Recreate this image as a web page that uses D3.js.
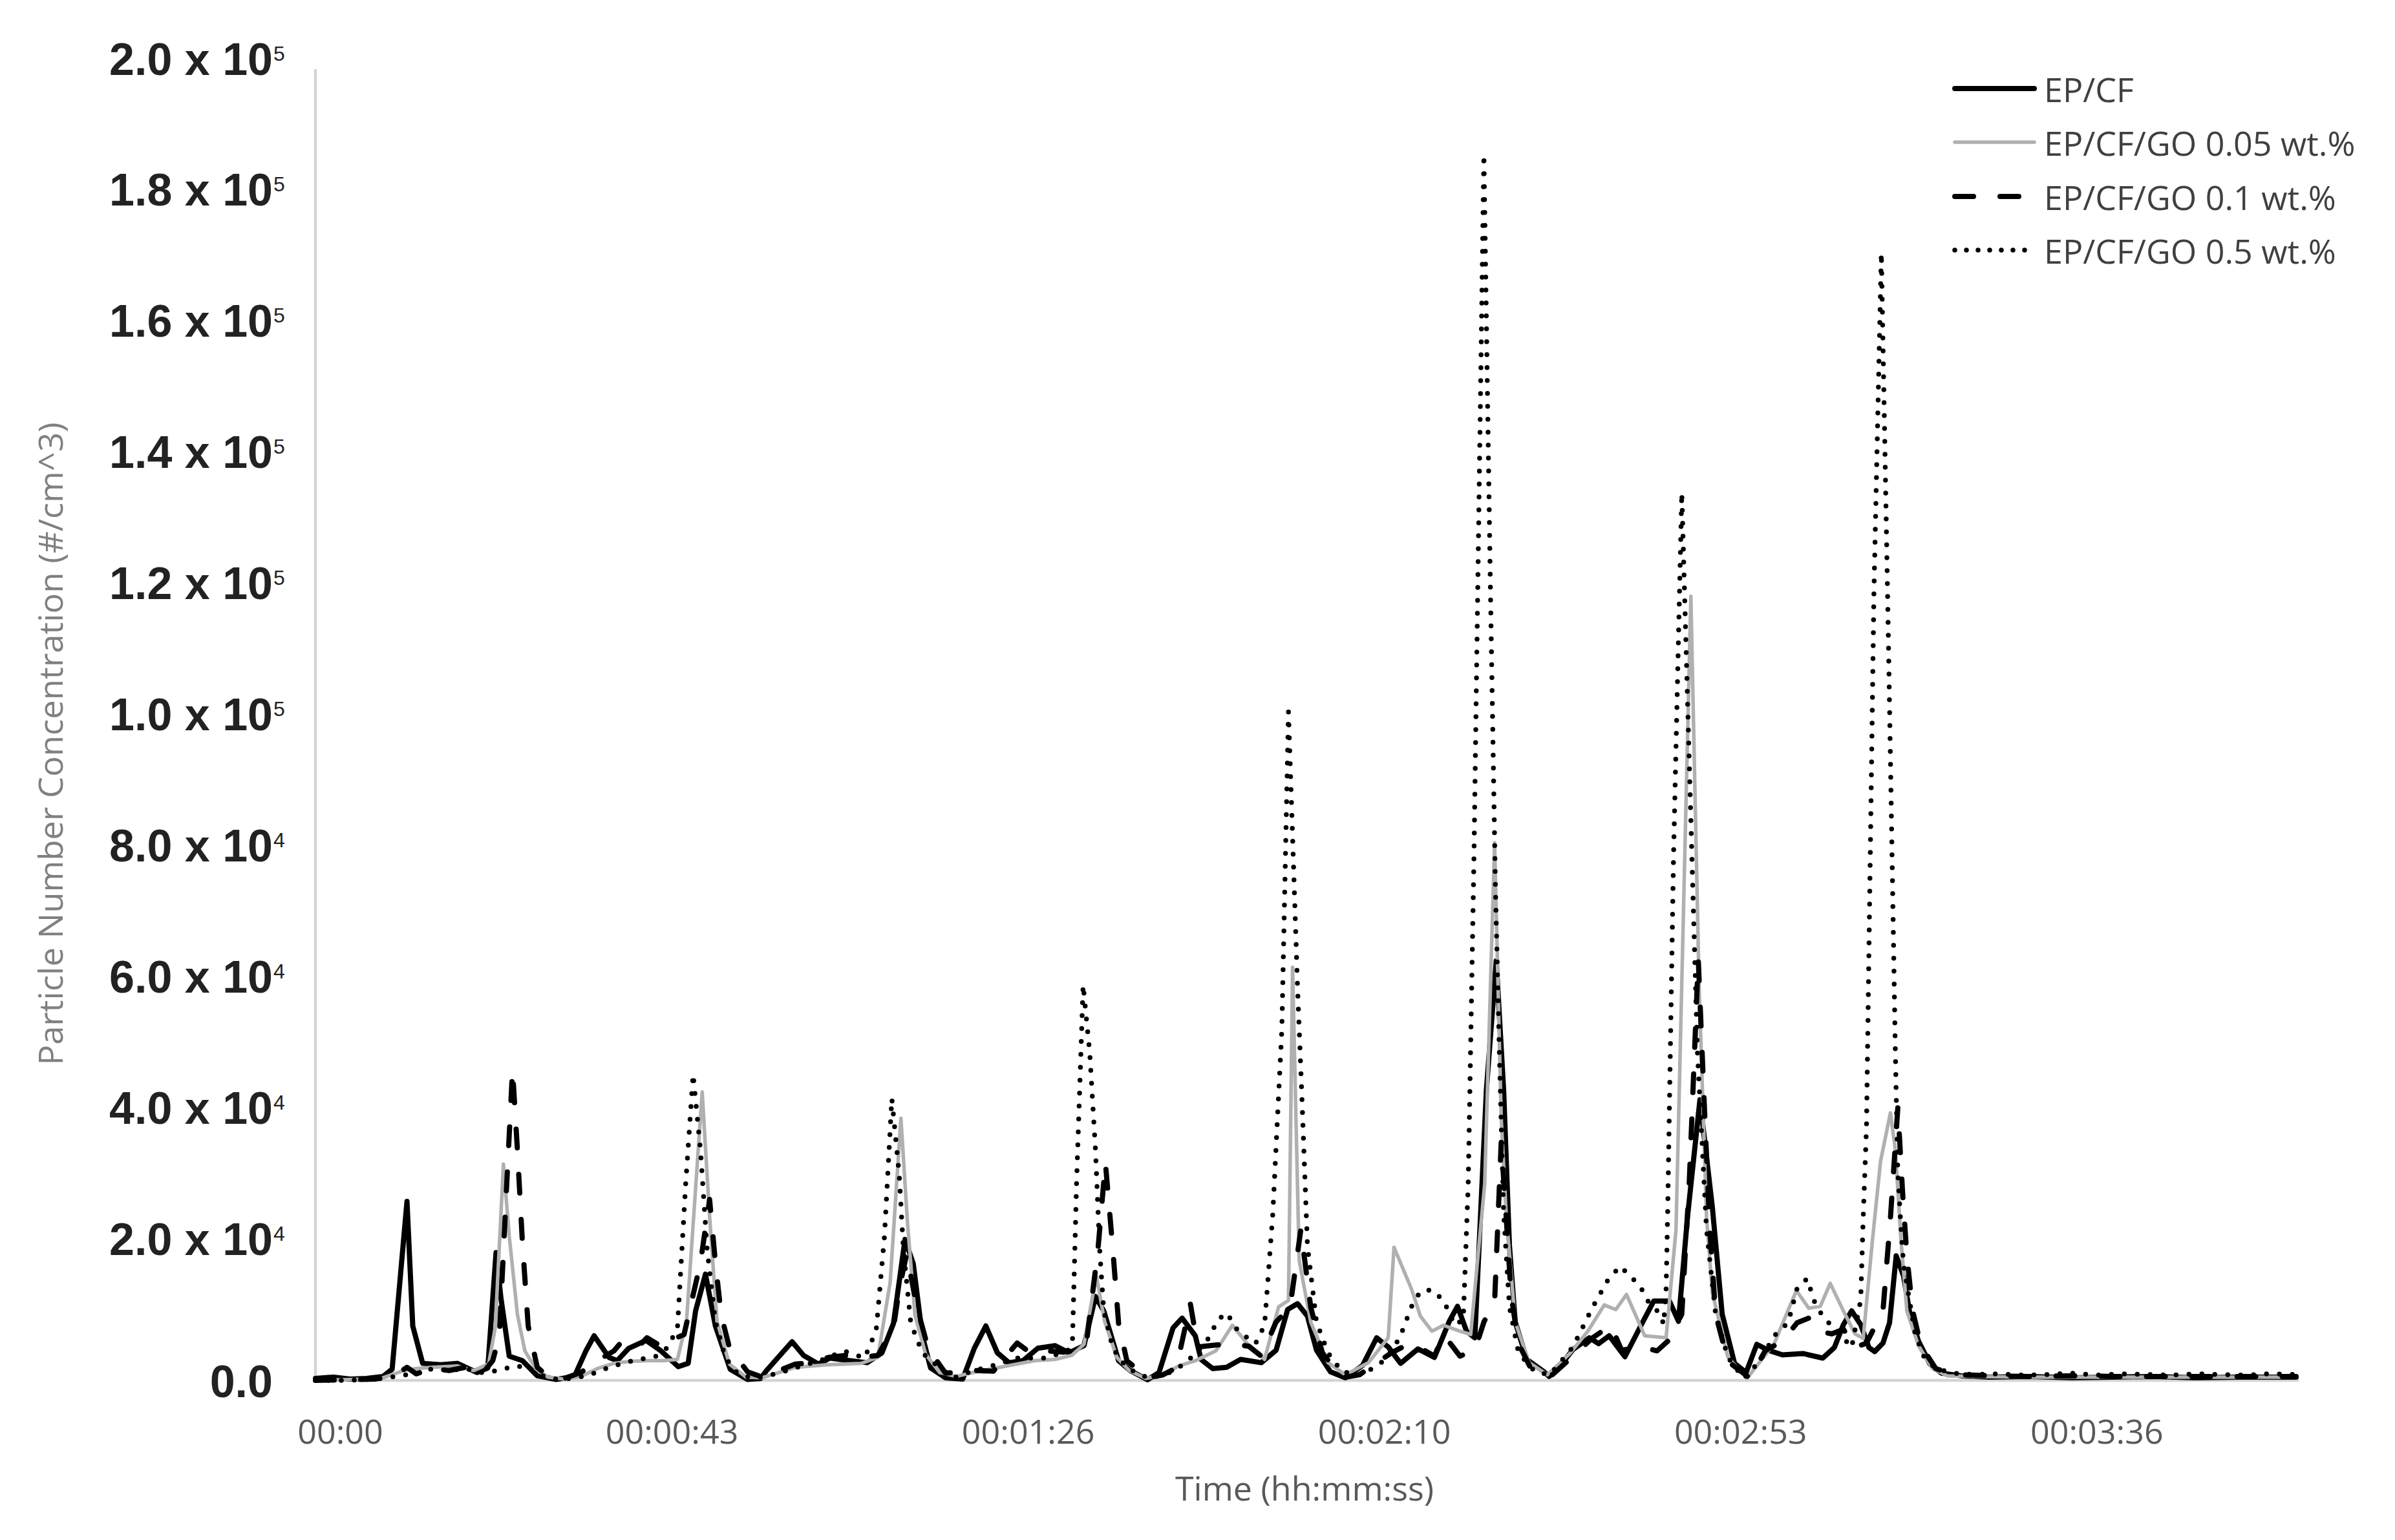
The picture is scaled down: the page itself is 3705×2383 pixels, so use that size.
<!DOCTYPE html>
<html><head><meta charset="utf-8">
<script src="https://cdn.jsdelivr.net/npm/d3@7"></script>
<style>html,body{margin:0;padding:0;background:#fff;} svg{display:block;}</style>
</head><body>
<svg id="chart" width="3705" height="2383"></svg>
<script>
// ---------------- DATA (time in seconds, concentration in #/cm^3) ----------------
const seriesNames = ["EP/CF", "EP/CF/GO 0.05 wt.%", "EP/CF/GO 0.1 wt.%", "EP/CF/GO 0.5 wt.%"];

const epcf = [[0,300],[2.2,500],[4.2,200],[6.2,300],[8.2,600],[9.3,1700],[11.1,27300],[11.8,8300],[13,2600],[15.2,2400],[17.2,2600],[19.6,1200],[20.9,1900],[21.9,19500],[22.5,12500],[23.5,3700],[25.1,3000],[26.9,700],[29.2,150],[31.4,600],[32.8,4500],[33.8,6800],[35.6,3500],[36.6,3000],[38,4900],[40.1,6100],[41.9,4500],[44,2100],[45.2,2600],[46.1,10600],[47.3,16200],[48.5,8300],[50.3,1700],[52.4,150],[54,300],[54.7,1500],[57.8,5900],[59.2,3800],[61,2500],[62.4,3400],[64.8,3000],[66.9,2700],[68.7,4200],[70.1,8700],[71.5,21500],[72.5,17800],[73.6,6800],[74.6,1900],[76.4,400],[78.5,200],[79.9,4900],[81.3,8300],[82.7,4200],[84.1,2700],[85.8,3000],[87.6,4900],[89.7,5300],[91.4,4200],[93.2,5300],[94.6,12800],[95.6,10600],[97.4,3000],[98.8,1500],[100.9,100],[102.3,1200],[104,8000],[105.1,9500],[106.7,6800],[107.4,3200],[108.8,1800],[110.5,2000],[112.2,3200],[114.7,2700],[116.5,4600],[117.9,10800],[119.1,11700],[120.3,9800],[121.4,4600],[123.1,1300],[124.9,400],[127,2300],[128.7,6500],[130.1,5100],[131.6,2600],[133.7,4800],[135.7,3500],[137.5,9000],[138.5,11300],[139.6,7500],[140.6,6500],[142,44200],[143.2,64000],[144.1,44200],[144.8,20600],[145.5,8900],[146.9,3200],[149,1300],[149.6,600],[150.7,1800],[152.5,4700],[154.5,6500],[155.6,5600],[156.9,6800],[158.8,3600],[160.8,8500],[162.3,12100],[164.2,12100],[165.3,9000],[166.4,25000],[167.9,42800],[169.4,26500],[170.6,10100],[172.1,2600],[173.5,1200],[174.8,5500],[176.2,4600],[177.9,3900],[180.4,4100],[182.8,3400],[184.2,5000],[185.3,8500],[186.3,10600],[187.4,8500],[188.4,5000],[189.1,4400],[190.1,5700],[190.9,8800],[191.7,19000],[192.6,15900],[193.3,10600],[194.4,6000],[195.8,2500],[197.2,1100],[199.6,700],[203,500],[208,600],[213,400],[218,500],[223,600],[228,400],[233,500],[240.2,500]];

const go005 = [[0,0],[3.2,100],[6.2,200],[8.2,400],[10.7,1500],[12.2,1800],[14.2,2000],[17.2,2200],[19.2,1500],[21,2500],[21.8,8000],[22.8,33000],[23.5,22000],[24.5,10000],[25.4,4500],[26.7,1800],[28.2,500],[30.2,200],[32.2,600],[34.2,1800],[36.2,2600],[38.2,2900],[40.2,3000],[42.2,3000],[43.9,3200],[45,9000],[46.9,44000],[47.8,25000],[48.7,9000],[50.2,2500],[52.2,500],[54.2,400],[56.2,1200],[58.2,2000],[60.2,2200],[62.2,2400],[64.2,2500],[66.2,2600],[68.2,3500],[69.7,15000],[71,40000],[71.8,24000],[72.7,10000],[74,4000],[75.7,1200],[77.7,600],[79.7,1200],[82.2,1800],[84.7,2400],[87.2,3000],[89.7,3200],[91.7,3800],[93.2,5500],[94.7,16000],[95.7,9000],[97.2,3500],[98.7,1500],[100.7,300],[102.7,800],[104.7,2200],[106.7,3000],[109.2,4500],[111.2,8400],[113,5600],[115.1,3200],[116.8,11200],[118,12200],[118.5,63000],[119.3,18300],[120.7,8900],[122.8,2700],[124.9,850],[127.7,2700],[130.1,6500],[130.8,20300],[132.9,14000],[134,9800],[135.4,7500],[136.8,8400],[138.8,7500],[140.1,7000],[141.8,30000],[143,82000],[143.8,40000],[144.4,25400],[145.5,8900],[147.2,2700],[149.4,850],[152.2,4200],[154.3,7500],[156.3,11500],[157.7,10800],[159,13100],[161.2,6800],[163.8,6500],[165,23000],[166.8,119600],[167.8,60000],[168.7,25000],[169.4,13400],[171.3,3500],[173.6,300],[176.9,5600],[179.6,13700],[181.1,11000],[182.5,11300],[183.7,14800],[185.3,10600],[186.7,7100],[187.7,6400],[188.8,21100],[189.8,33400],[191,40800],[191.6,35200],[192.3,21100],[193,10600],[194.4,5300],[196.1,1800],[197.9,700],[201,600],[208,500],[218,500],[228,500],[240.2,500]];

const go01 = [[0,0],[4.2,100],[7.2,200],[9.7,800],[11.1,2000],[12.2,1000],[14.2,1800],[16.2,1500],[18.2,2000],[20.2,1000],[21.5,3000],[22.3,6800],[23.2,30000],[23.9,47400],[24.5,35000],[25.1,21000],[25.8,8300],[26.9,2000],[28.2,600],[30.2,300],[32.2,1200],[34.2,3000],[36.2,4500],[37.2,6000],[39.2,5200],[40.2,6500],[42.2,5000],[43.6,6400],[44.7,7000],[46.7,18000],[47.8,27600],[48.5,18000],[49.2,10000],[50.2,5000],[52.4,1300],[54.2,500],[56.2,1500],[58.2,2500],[60.2,2700],[62.2,3500],[64.2,3800],[66.2,3500],[68.2,3800],[70.1,8000],[70.8,14000],[71.7,19300],[72.9,11400],[74.3,4900],[76.4,1100],[78.2,1300],[80.2,1500],[82.2,1400],[85.1,5700],[86.7,4200],[88.7,4500],[90.7,4300],[92.2,4600],[93.5,5700],[94.9,20000],[95.8,33200],[96.7,20000],[97.4,8700],[98.4,3000],[100.9,400],[102.7,800],[104.4,1900],[106.1,11700],[107,5100],[109.2,5400],[111.2,5600],[113.2,5200],[114.7,3700],[116.5,8900],[118.2,11200],[119.5,23000],[120.7,11200],[122.1,4200],[124.5,400],[126.6,850],[128.7,2700],[130.5,4200],[132.6,5600],[134.2,4800],[135.7,3700],[136.8,7000],[138.8,3700],[140.6,4600],[141.7,8900],[143,12000],[143.8,36300],[144.4,25000],[145,13000],[145.9,5600],[147.6,1300],[150,850],[152.5,3700],[154.9,6500],[157.1,8400],[158.4,4600],[160.8,5100],[162.7,4500],[164.2,6200],[165.7,10100],[166.6,30000],[167.7,64200],[168.5,40000],[169.1,23000],[169.8,10100],[171.3,2900],[174,300],[175.8,4500],[177.9,6000],[179.7,8800],[181.1,9500],[182.2,7500],[183.9,7100],[185.3,7800],[186.7,5000],[188.1,5700],[190.1,10600],[191,24700],[191.9,41600],[192.5,28200],[193,19000],[193.7,10600],[194.7,5300],[196.5,1800],[198.6,900],[203,700],[208,600],[213,700],[218,600],[228,600],[240.2,600]];

const go05 = [[0,0],[4.2,0],[8.2,300],[10.7,800],[12.2,1000],[14.2,1800],[16.2,1500],[18.2,1800],[20.2,1200],[22.2,1500],[24.2,2200],[25.7,2000],[27.2,800],[29.2,200],[31.2,300],[33.2,800],[35.2,1800],[37.2,2600],[39.2,3200],[41.2,3600],[42.7,5000],[43.9,8000],[44.9,30000],[45.8,46700],[46.7,35000],[47.5,20000],[48.5,9000],[49.7,3500],[51.2,1000],[53.2,300],[55.2,800],[57.2,1500],[59.2,2300],[61.2,3000],[64.1,4500],[66.6,3400],[68,7600],[69,21900],[69.9,43000],[70.8,31300],[71.3,20000],[72.2,8700],[73.6,4200],[75.7,1900],[77.4,400],[79.9,1500],[82.3,2300],[85.1,3400],[88.6,3400],[91.2,4500],[91.8,5700],[92.3,30000],[93.1,60300],[93.9,50000],[94.6,35100],[95.1,20000],[95.6,10600],[96.7,4900],[98.4,1900],[100.9,400],[103,800],[105.1,2300],[106.5,3800],[108.1,6000],[109.5,9300],[110.5,10300],[111.9,7500],[114,5600],[115.1,8400],[116.1,25400],[117.2,53600],[118,102000],[119.1,60000],[119.6,44200],[120.3,20600],[121.4,8900],[122.8,4200],[124.5,1300],[127,850],[129.8,3200],[131.5,6500],[132.9,11200],[134,13600],[135.4,13800],[136.8,12200],[138.2,8400],[139.2,9300],[139.8,30000],[140.5,80000],[141.7,187000],[142.5,120000],[143.1,75000],[143.6,48900],[144.1,25400],[144.8,11200],[145.9,4200],[147.9,1300],[149.7,850],[152.5,5100],[154.9,11200],[156.7,15200],[158.2,17400],[159.5,15900],[160.8,14000],[161.6,12100],[163.1,10100],[163.5,8500],[163.8,14000],[164,26500],[164.7,80000],[165.7,135400],[166.7,90000],[167.6,50000],[168.7,23000],[169.8,10100],[171.3,3500],[173.2,300],[175.2,3000],[176.9,6800],[178.6,8800],[179.7,14100],[180.9,15500],[181.8,12000],[182.6,10200],[183.5,8800],[184.9,7100],[186.3,5000],[187.4,12300],[187.7,24700],[188.1,38700],[189,120000],[189.9,172000],[190.8,110000],[191.6,50000],[191.9,31700],[192.3,22900],[192.6,17600],[193.3,12300],[194,7100],[195.1,3500],[196.5,1800],[198.6,1100],[201,900],[204,1000],[207,800],[210,900],[213,1100],[216,800],[219,1000],[222,900],[225,800],[228,1000],[231,900],[234,800],[237,1000],[240.2,900]];

const xTickValues = [0, 43.2, 86.4, 129.6, 172.8, 216];
const xTickLabels = ["00:00", "00:00:43", "00:01:26", "00:02:10", "00:02:53", "00:03:36"];
const yTickValues = [0, 20000, 40000, 60000, 80000, 100000, 120000, 140000, 160000, 180000, 200000];
const yTickMantissas = ["0.0", "2.0", "4.0", "6.0", "8.0", "1.0", "1.2", "1.4", "1.6", "1.8", "2.0"];
const yTickExponents = ["", "4", "4", "4", "4", "5", "5", "5", "5", "5", "5"];
const xTitle = "Time (hh:mm:ss)";
const yTitle = "Particle Number Concentration (#/cm^3)";

// ---------------- CHART ----------------
const svg = d3.select("#chart");
const x = d3.scaleLinear().domain([0, 240.2]).range([488, 3552]);
const y = d3.scaleLinear().domain([0, 200000]).range([2136, 107]);

const styles = [
  {data: epcf,  stroke: "#000000", width: 8,   dash: null,    cap: "round"},
  {data: go005, stroke: "#b0b0b0", width: 5.5, dash: null,    cap: "round"},
  {data: go01,  stroke: "#000000", width: 8,   dash: "29,41", cap: "round"},
  {data: go05,  stroke: "#000000", width: 7.5, dash: "0,20",  cap: "round"}
];

// axes lines
svg.append("line").attr("x1", x(0)).attr("x2", x(0)).attr("y1", y(0)).attr("y2", y(200000))
  .attr("stroke", "#d4d4d4").attr("stroke-width", 4.5);
svg.append("line").attr("x1", x(0) - 4).attr("x2", x(240.2) + 4).attr("y1", y(0)).attr("y2", y(0))
  .attr("stroke", "#d4d4d4").attr("stroke-width", 4.5);

// x axis labels
const gx = svg.append("g").attr("transform", `translate(0,${y(0)})`)
  .call(d3.axisBottom(x).tickValues(xTickValues).tickFormat((d, i) => xTickLabels[i]).tickSize(0).tickPadding(0));
gx.select(".domain").remove();
gx.selectAll("text")
  .attr("dy", null).attr("y", 77).attr("dominant-baseline", "central")
  .attr("dx", (d, i) => i === 0 ? 38 : 0)
  .attr("font-family", "'Open Sans', sans-serif").attr("font-size", 52).attr("fill", "#595959");

// y axis labels
const gy = svg.append("g").attr("transform", "translate(422,0)")
  .call(d3.axisLeft(y).tickValues(yTickValues).tickFormat((d, i) => yTickMantissas[i] + (yTickExponents[i] ? " x 10" : "")).tickSize(0).tickPadding(0));
gy.select(".domain").remove();
gy.selectAll(".tick text")
  .attr("dy", null).attr("x", 0).attr("y", (d, i) => yTickExponents[i] ? 8 : 25)
  .attr("text-anchor", "end")
  .attr("font-family", "'Liberation Sans', Arial, sans-serif").attr("font-weight", "bold")
  .attr("font-size", 70).attr("fill", "#222222");
gy.selectAll(".tick").append("text")
  .attr("x", 1).attr("y", -14)
  .attr("text-anchor", "start")
  .attr("font-family", "'Liberation Sans', Arial, sans-serif")
  .attr("font-size", 32).attr("fill", "#222222")
  .text((d, i) => yTickExponents[i]);

// titles
svg.append("text").attr("x", 2018).attr("y", 2322).attr("text-anchor", "middle")
  .attr("font-family", "'Open Sans', sans-serif").attr("font-size", 52).attr("fill", "#595959")
  .text(xTitle);
svg.append("text").attr("transform", "translate(97,1151) rotate(-90)").attr("text-anchor", "middle")
  .attr("font-family", "'Open Sans', sans-serif").attr("font-size", 52).attr("fill", "#808080")
  .attr("textLength", 995).attr("lengthAdjust", "spacingAndGlyphs")
  .text(yTitle);

// series lines
const line = d3.line().x(d => x(d[0])).y(d => y(d[1]));
styles.forEach(s => {
  svg.append("path").datum(s.data).attr("d", line)
    .attr("fill", "none").attr("stroke", s.stroke).attr("stroke-width", s.width)
    .attr("stroke-linejoin", "round").attr("stroke-linecap", s.cap)
    .attr("stroke-dasharray", s.dash);
});

// legend
const legendRows = [137, 220, 304, 387];
const legendDash = [null, null, "29,41", "0,18"];
const lg = svg.append("g");
styles.forEach((s, i) => {
  lg.append("line").attr("x1", 3024).attr("x2", 3147).attr("y1", legendRows[i]).attr("y2", legendRows[i])
    .attr("stroke", s.stroke).attr("stroke-width", s.width).attr("stroke-linecap", s.cap)
    .attr("stroke-dasharray", legendDash[i]);
  lg.append("text").attr("x", 3162).attr("y", legendRows[i]).attr("dominant-baseline", "central")
    .attr("font-family", "'Open Sans', sans-serif").attr("font-size", 52).attr("fill", "#404040")
    .text(seriesNames[i]);
});
</script>
</body></html>
